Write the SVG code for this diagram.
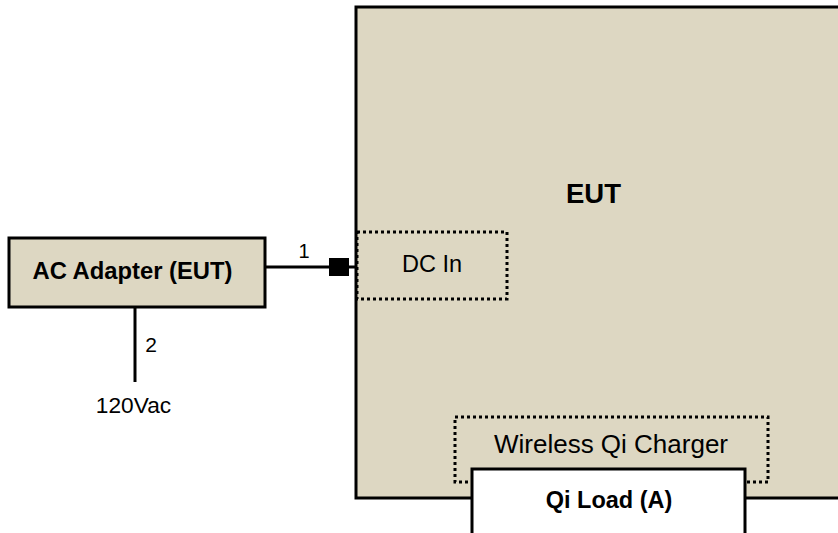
<svg xmlns="http://www.w3.org/2000/svg" width="838" height="533" viewBox="0 0 838 533">
<style>
.box{fill:#ddd7c2;stroke:#000;stroke-width:3}
.dot{fill:none;stroke:#000;stroke-width:3;stroke-dasharray:3 3}
.wire{stroke:#000;stroke-width:3;fill:none}
text{font-family:"Liberation Sans",Arial,sans-serif;fill:#000}
.b{font-weight:bold}
</style>
<rect width="838" height="533" fill="#fff"/>
<g id="eut">
<rect class="box" x="356" y="7" width="490" height="491"/>
<text class="b" x="593.5" y="203" font-size="27.5" text-anchor="middle">EUT</text>
</g>
<g id="dcin">
<rect class="dot" x="357" y="232" width="150" height="67"/>
<text x="432" y="272" font-size="23.5" text-anchor="middle">DC In</text>
</g>
<g id="qicharger">
<rect class="dot" x="455" y="417" width="313" height="65"/>
<text x="611" y="453" font-size="26" text-anchor="middle">Wireless Qi Charger</text>
</g>
<g id="qiload">
<rect x="472" y="469" width="273" height="80" fill="#fff" stroke="#000" stroke-width="3"/>
<text class="b" x="609" y="508" font-size="23.5" text-anchor="middle">Qi Load (A)</text>
</g>
<g id="adapter">
<rect class="box" x="9" y="238" width="256" height="69"/>
<text class="b" x="132.5" y="279" font-size="23.8" text-anchor="middle">AC Adapter (EUT)</text>
</g>
<g id="connectors">
<line class="wire" x1="265" y1="267" x2="356" y2="267"/>
<rect x="329" y="258" width="20" height="18" fill="#000"/>
<text x="304" y="258" font-size="20" text-anchor="middle">1</text>
<line class="wire" x1="135" y1="307" x2="135" y2="382"/>
<text x="151" y="352" font-size="21" text-anchor="middle">2</text>
<text x="133.5" y="413" font-size="22.7" text-anchor="middle">120Vac</text>
</g>
</svg>
